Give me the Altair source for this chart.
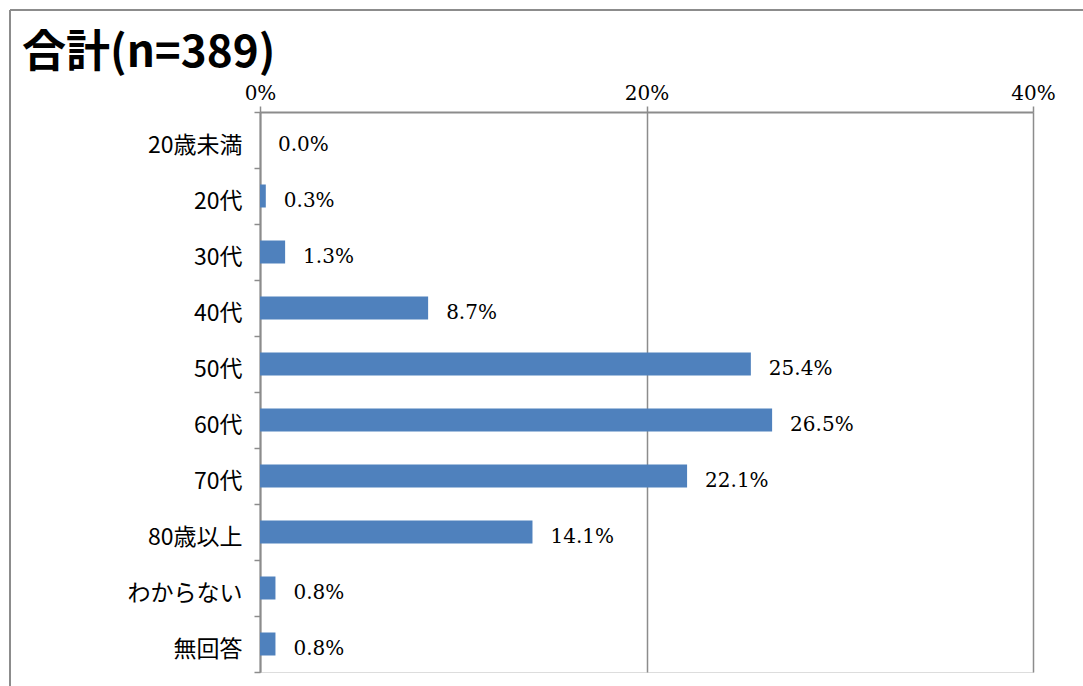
import altair as alt
import pandas as pd

categories = ["20歳未満", "20代", "30代", "40代", "50代", "60代", "70代", "80歳以上", "わからない", "無回答"]
values = [0.0, 0.3, 1.3, 8.7, 25.4, 26.5, 22.1, 14.1, 0.8, 0.8]
tick_values = [0, 20, 40]
title_text = "合計(n=389)"

df = pd.DataFrame({"cat": categories, "val": values})
df["label"] = [f"{v:.1f}%" for v in values]
title_df = pd.DataFrame({"t": [title_text]})

W, H = 773, 560
SERIF = "DejaVu Serif"

y_scale = alt.Scale(paddingInner=0, paddingOuter=0)
y_enc = alt.Y("cat:N", sort=categories, title=None, scale=y_scale,
              axis=alt.Axis(domainColor="#8c8c8c", domainWidth=2, tickColor="#8c8c8c",
                            tickWidth=1.5, tickSize=6, tickBand="extent",
                            labelFont="Noto Sans CJK JP", labelFontSize=23, labelFontWeight="normal",
                            labelColor="#000000", labelPadding=12, labelOffset=5, grid=False))
x_scale = alt.Scale(domain=[0, 40], nice=False, zero=True)

bars = alt.Chart(df).mark_bar(color="#4F81BD", size=23).encode(
    x=alt.X("val:Q", scale=x_scale, title=None,
            axis=alt.Axis(orient="top", values=tick_values, labelExpr="datum.value + '%'",
                          labelFont=SERIF, labelFontSize=20, labelColor="#000000",
                          labelPadding=3, labelFlush=False, domainColor="#8c8c8c", domainWidth=2,
                          tickColor="#8c8c8c", tickWidth=1.5, tickSize=6,
                          grid=True, gridColor="#8c8c8c", gridWidth=1.5)),
    y=y_enc,
)

labels = alt.Chart(df).mark_text(align="left", baseline="middle", dx=18, dy=5,
                                 font=SERIF, fontSize=20, color="#000000").encode(
    x=alt.X("val:Q", scale=x_scale),
    y=alt.Y("cat:N", sort=categories, scale=y_scale),
    text="label:N",
)

title = alt.Chart(title_df).mark_text(align="left", baseline="alphabetic",
                                      font="Noto Sans CJK JP", fontSize=44, fontWeight="bold",
                                      color="#000000").encode(
    x=alt.value(-238), y=alt.value(-45), text="t:N")

border_top = alt.Chart(df).mark_rule(color="#8c8c8c", strokeWidth=2).encode(
    x=alt.value(-250), x2=alt.value(W + 60), y=alt.value(-102))
border_left = alt.Chart(df).mark_rule(color="#8c8c8c", strokeWidth=2).encode(
    x=alt.value(-250), y=alt.value(-102), y2=alt.value(H + 30))

chart = alt.layer(bars, labels, title, border_top, border_left).properties(
    width=W, height=H,
    autosize=alt.AutoSizeParams(type="none"),
    padding={"left": 260, "top": 112, "right": 50, "bottom": 14},
).configure_view(stroke=None).configure(background="white")

chart.save("out.html", embed_options={"renderer": "svg", "actions": False})
